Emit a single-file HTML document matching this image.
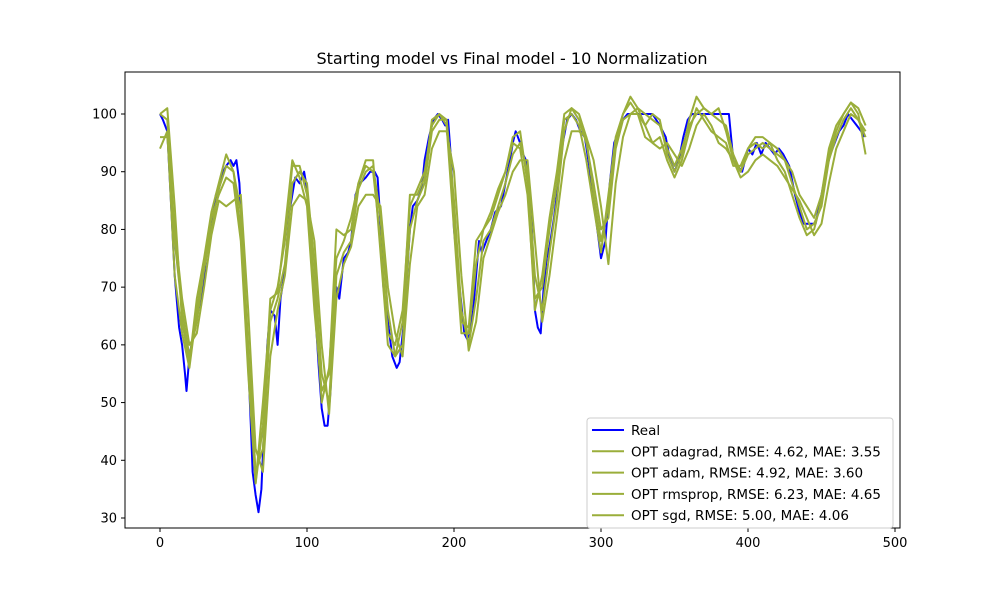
<!DOCTYPE html>
<html><head><meta charset="utf-8"><style>
body{margin:0;background:#fff;font-family:"Liberation Sans","DejaVu Sans",sans-serif;}
svg text{font-family:"DejaVu Sans","Liberation Sans",sans-serif;}
</style></head><body>
<svg id="chart" width="1000" height="600" xmlns="http://www.w3.org/2000/svg"></svg>
<script>
const realIdx=[0,2,5,8,10,13,15,17,18,20,25,28,30,33,35,38,40,43,45,48,50,52,54,56,58,60,62,63,65,67,69,71,73,75,78,80,82,85,88,90,92,95,98,100,102,105,108,110,112,114,116,118,120,122,125,128,130,133,136,140,143,146,148,150,152,155,158,161,163,166,168,170,172,175,178,180,183,186,189,192,194,196,198,200,203,205,207,209,211,213,215,217,219,222,225,228,232,235,238,240,242,245,247,249,251,253,255,257,259,261,263,265,268,271,274,277,280,283,286,289,292,295,298,300,303,306,309,312,315,318,320,330,335,340,344,347,350,353,356,359,362,370,380,387,390,393,396,400,403,406,409,412,415,418,421,424,428,432,435,438,442,446,450,453,456,459,462,465,468,471,474,477,479];
const realVals=[100,99,97,82,72,63,60,55,52,58,65,68,72,79,80,86,87,90,91,92,91,92,88,78,65,57,45,38,34,31,35,47,60,66,65,60,68,73,83,86,89,88,90,87,80,68,56,49,46,46,52,64,70,68,75,76,78,86,88,89,90,90,89,81,70,64,58,56,57,64,72,80,84,85,87,92,96,99,100,99,98,99,92,80,72,67,62,61,62,66,72,78,76,78,80,83,84,88,92,95,97,95,93,92,88,80,66,63,62,70,75,77,82,88,95,99,100,99,97,96,91,85,79,75,78,88,95,97,99,100,100,100,100,98,96,92,90,92,96,99,100,100,100,100,92,91,90,94,93,95,93,95,94,93,94,93,91,86,83,81,81,81,86,90,93,95,97,98,100,99,98,97,96];
const predIdx=[0,5,10,15,20,25,30,35,40,45,50,55,60,65,70,75,80,85,90,95,100,105,110,115,120,125,130,135,140,145,150,155,160,165,170,175,180,185,190,195,200,205,210,215,220,225,230,235,240,245,250,255,260,265,270,275,280,285,290,295,300,305,310,315,320,325,330,335,340,345,350,355,360,365,370,375,380,385,390,395,400,405,410,415,420,425,430,435,440,445,450,455,460,465,470,475,480];
const adagradVals=[100,99,78,66,58,64,73,80,87,91,90,83,60,38,42,64,68,74,88,90,88,74,55,50,72,76,78,87,90,91,82,66,58,60,80,85,88,97,99,99,85,66,60,68,78,80,84,88,93,95,90,72,66,76,85,97,101,99,95,88,80,82,94,99,100,101,100,99,98,94,91,94,98,100,101,100,99,98,93,90,93,94,95,94,93,92,88,84,80,81,84,92,96,99,101,99,97];
const adamVals=[94,97,72,62,56,66,74,82,86,89,88,78,55,36,50,66,70,78,91,91,86,70,50,56,75,78,82,88,91,90,78,62,60,66,84,87,90,98,100,98,80,62,62,74,80,82,86,90,95,94,86,68,70,80,88,99,100,98,92,84,76,86,96,100,102,100,96,95,96,92,89,92,97,101,99,97,96,95,91,91,94,95,94,95,92,90,86,82,79,80,85,93,97,100,102,100,93];
const rmspropVals=[96,96,80,68,60,62,70,79,85,84,85,86,66,42,38,58,66,72,84,86,85,78,60,48,68,74,77,84,86,86,84,70,62,58,74,84,86,94,97,97,90,72,59,64,75,79,83,86,90,92,92,78,64,72,82,92,97,97,96,92,84,74,88,96,100,100,98,95,94,95,93,91,94,98,100,98,95,94,92,89,90,92,93,92,91,89,87,85,82,79,81,88,94,97,100,99,96];
const sgdVals=[100,101,84,64,57,68,75,83,88,93,90,80,58,36,46,68,69,80,92,89,84,66,52,55,80,79,80,88,92,92,76,60,58,64,86,86,89,99,100,99,84,64,63,78,80,83,87,90,96,97,88,66,72,82,90,100,101,100,96,86,78,84,95,100,103,101,98,100,99,93,90,93,99,103,101,100,101,97,92,90,94,96,96,95,94,92,90,86,84,82,86,94,98,100,102,101,98];
const xTicks=[0,100,200,300,400,500];
const yTicks=[30,40,50,60,70,80,90,100];
const legendLabels=["Real","OPT adagrad, RMSE: 4.62, MAE: 3.55","OPT adam, RMSE: 4.92, MAE: 3.60","OPT rmsprop, RMSE: 6.23, MAE: 4.65","OPT sgd, RMSE: 5.00, MAE: 4.06"];

const NS="http://www.w3.org/2000/svg";
const svg=document.getElementById('chart');
const L=125,R=900,T=72,B=528;
const xs=v=>160+(v-0)*(895-160)/500;
const ys=v=>114+(100-v)*(518-114)/70;
function mk(tag,attrs,parent){const e=document.createElementNS(NS,tag);for(const k in attrs)e.setAttribute(k,attrs[k]);(parent||svg).appendChild(e);return e;}

const title=mk('text',{x:512,y:64,'text-anchor':'middle','font-size':16,fill:'#000'});


title.textContent='Starting model vs Final model - 10 Normalization';

const green='#9aae3a';
function line(idx,vals,color,name){
  const d=idx.map((x,i)=>(i?'L':'M')+xs(x).toFixed(1)+' '+ys(vals[i]).toFixed(1)).join(' ');
  const p=mk('path',{d:d,fill:'none',stroke:color,'stroke-width':2,'stroke-linejoin':'round'});
  
  
}
line(realIdx,realVals,'#0000ff','real-line');
line(predIdx,adagradVals,green,'adagrad-line');
line(predIdx,adamVals,green,'adam-line');
line(predIdx,rmspropVals,green,'rmsprop-line');
line(predIdx,sgdVals,green,'sgd-line');

const frame=mk('rect',{x:L,y:T,width:R-L,height:B-T,fill:'none',stroke:'#000','stroke-width':1});



xTicks.forEach(t=>{
  const x=xs(t);
  const tk=mk('line',{x1:x,x2:x,y1:B,y2:B+4,stroke:'#000'});
  
  
  const tx=mk('text',{x:x,y:B+19,'text-anchor':'middle','font-size':13});
  
  
  tx.textContent=t;
});
yTicks.forEach(t=>{
  const y=ys(t);
  const tk=mk('line',{x1:L-4,x2:L,y1:y,y2:y,stroke:'#000'});
  
  
  const tx=mk('text',{x:L-8,y:y+4.5,'text-anchor':'end','font-size':13});
  
  
  tx.textContent=t;
});

const lg=mk('g',{});


mk('rect',{x:587,y:418,width:306,height:110,rx:3,fill:'#fff','fill-opacity':0.8,stroke:'#ccc'},lg);
legendLabels.forEach((lab,i)=>{
  const y=430+i*21.3;
  const g=mk('g',{},lg);
  
  
  mk('line',{x1:592,x2:624,y1:y,y2:y,stroke:i===0?'#0000ff':green,'stroke-width':2},g);
  const t=mk('text',{x:631,y:y+5,'font-size':13.5},g);
  t.textContent=lab;
});
</script>
</body></html>
